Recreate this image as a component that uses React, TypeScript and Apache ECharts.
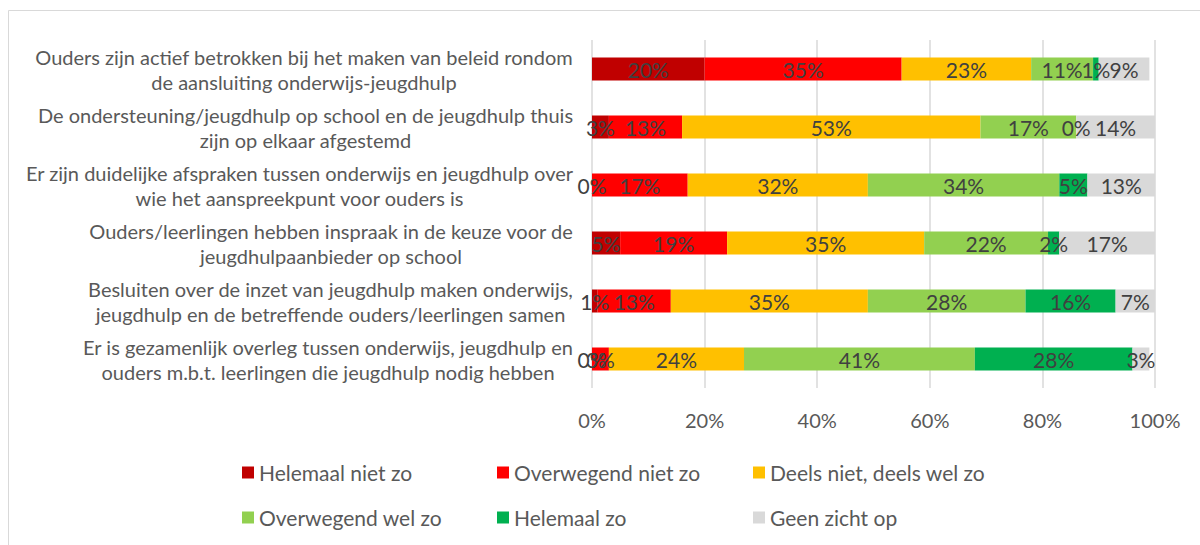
import React, { useEffect, useRef } from "react";
import * as echarts from "echarts";

const categories = [
  "Ouders zijn actief betrokken bij het maken van beleid rondom\nde aansluiting onderwijs-jeugdhulp",
  "De ondersteuning/jeugdhulp op school en de jeugdhulp thuis\nzijn op elkaar afgestemd",
  "Er zijn duidelijke afspraken tussen onderwijs en jeugdhulp over\nwie het aanspreekpunt voor ouders is",
  "Ouders/leerlingen hebben inspraak in de keuze voor de\njeugdhulpaanbieder op school",
  "Besluiten over de inzet van jeugdhulp maken onderwijs,\njeugdhulp en de betreffende ouders/leerlingen samen",
  "Er is gezamenlijk overleg tussen onderwijs, jeugdhulp en\nouders m.b.t. leerlingen die jeugdhulp nodig hebben",
];

const seriesNames = [
  "Helemaal niet zo",
  "Overwegend niet zo",
  "Deels niet, deels wel zo",
  "Overwegend wel zo",
  "Helemaal zo",
  "Geen zicht op",
];

const helemaalNiet = [20, 3, 0, 5, 1, 0];
const overwegendNiet = [35, 13, 17, 19, 13, 3];
const deels = [23, 53, 32, 35, 35, 24];
const overwegendWel = [11, 17, 34, 22, 28, 41];
const helemaal = [1, 0, 5, 2, 16, 28];
const geenZicht = [9, 14, 13, 17, 7, 3];

const xTicks = [0, 20, 40, 60, 80, 100];

const colors = ["#C00000", "#FF0000", "#FFC000", "#92D050", "#00B050", "#D9D9D9"];

const FONT = "Lato";
const CAT_SIZE = 20;

function measure(text: string, font: string): number {
  const c = document.createElement("canvas").getContext("2d");
  if (!c) return text.length * 9;
  c.font = font;
  return c.measureText(text).width;
}

export default function App() {
  const ref = useRef<HTMLDivElement>(null);
  useEffect(() => {
    if (!ref.current) return;
    const chart = echarts.init(ref.current, undefined, { renderer: "svg" });
    const values = [helemaalNiet, overwegendNiet, deels, overwegendWel, helemaal, geenZicht];

    const rich: Record<string, any> = {};
    categories.forEach((cat, i) => {
      const w = Math.max(...cat.split("\n").map((l) => measure(l, `${CAT_SIZE}px ${FONT}`)));
      rich["c" + i] = {
        width: Math.ceil(w) + 1,
        align: "center",
        fontSize: CAT_SIZE,
        fontFamily: FONT,
        color: "#595959",
        lineHeight: 25,
      };
    });

    const legendLefts = [237, 492, 748];
    const legendTops = [457, 502];
    const legends = seriesNames.map((name, i) => ({
      orient: "horizontal",
      icon: "rect",
      itemWidth: 12,
      itemHeight: 12,
      left: legendLefts[i % 3],
      top: legendTops[Math.floor(i / 3)],
      selectedMode: false,
      data: [name],
      textStyle: { fontFamily: FONT, fontSize: 21, color: "#595959" },
    }));

    chart.setOption({
      animation: false,
      color: colors,
      graphic: [
        {
          type: "rect",
          shape: { x: 8.5, y: 10.5, width: 1200, height: 600 },
          style: { fill: "none", stroke: "#D9D9D9", lineWidth: 1 },
          silent: true,
        },
      ],
      grid: { left: 592, right: 45, top: 40, bottom: 157 },
      legend: legends,
      xAxis: {
        type: "value",
        min: xTicks[0],
        max: xTicks[xTicks.length - 1],
        interval: 20,
        axisLine: { show: false },
        axisTick: { show: false },
        splitLine: { lineStyle: { color: "#D9D9D9", width: 1.5 } },
        axisLabel: {
          formatter: "{value}%",
          fontFamily: FONT,
          fontSize: 20,
          color: "#595959",
          margin: 22,
        },
      },
      yAxis: {
        type: "category",
        inverse: true,
        data: categories,
        axisLine: { show: false },
        axisTick: { show: false },
        axisLabel: {
          margin: 18,
          align: "right",
          formatter: (v: string, idx: number) =>
            v.split("\n").map((l) => `{c${idx}|${l}}`).join("\n"),
          rich,
        },
      },
      series: seriesNames.map((name, i) => ({
        name,
        type: "bar",
        stack: "total",
        barWidth: 23,
        data: values[i],
        itemStyle: { color: colors[i] },
        label: {
          show: true,
          position: "inside",
          formatter: "{c}%",
          fontFamily: FONT,
          fontSize: 21,
          color: "#404040",
        },
      })),
    });
    return () => chart.dispose();
  }, []);
  return (
    <div
      ref={ref}
      style={{ position: "absolute", left: 0, top: 0, width: 1200, height: 545, background: "#fff" }}
    />
  );
}
